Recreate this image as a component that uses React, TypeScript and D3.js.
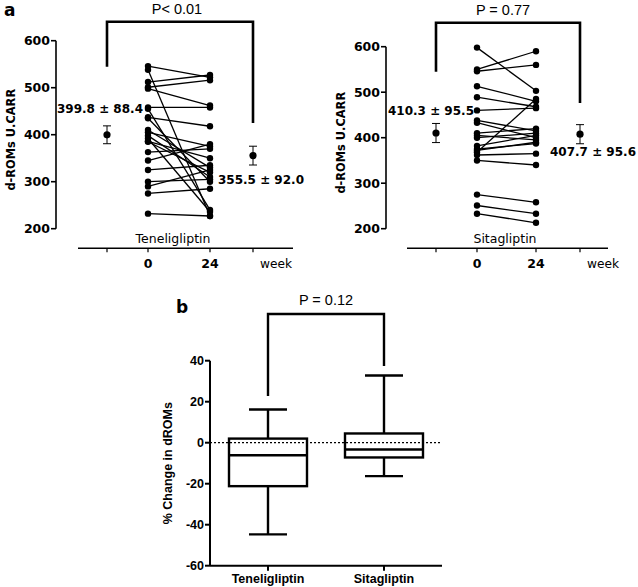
import React from 'react';
import * as d3 from 'd3';

// ---------- Data ----------
const weekLabels = ['0', '24'];
const teneBaseline = [546, 538, 512, 501, 498, 458, 455, 437, 435, 410, 405, 398, 392, 386, 385, 363, 345, 325, 300, 290, 275, 232];
const teneWeek24 = [522, 227, 527, 516, 462, 458, 240, 418, 300, 330, 375, 310, 236, 350, 320, 370, 380, 335, 305, 325, 285, 227];
const sitaBaseline = [598, 550, 546, 513, 489, 460, 438, 433, 410, 405, 400, 382, 375, 368, 362, 350, 372, 275, 251, 233];
const sitaWeek24 = [503, 590, 560, 480, 468, 465, 415, 400, 420, 395, 410, 405, 387, 485, 365, 340, 390, 258, 233, 213];
const teneMean = [399.8, 355.5];
const teneSD = [88.4, 92.0];
const teneSEM = [19, 20];
const sitaMean = [410.3, 407.7];
const sitaSD = [95.5, 95.6];
const sitaSEM = [21, 21];
const yTicksA = [200, 300, 400, 500, 600];
const drugs = ['Teneligliptin', 'Sitagliptin'];
const pLabels = ['P< 0.01', 'P = 0.77', 'P = 0.12'];

const boxMin = [-44.7, -16.3];
const boxQ1 = [-21.2, -7.2];
const boxMed = [-6.1, -3.3];
const boxQ3 = [2.0, 4.5];
const boxMax = [16.2, 32.8];
const yTicksB = [-60, -40, -20, 0, 20, 40];

const FA = '"DejaVu Sans", Verdana, sans-serif';
const FB = '"Liberation Sans", Arial, sans-serif';

type Cfg = {
  axisX: number;
  yRange: [number, number];
  xPos: number[];
  baseX: [number, number];
  baseY: number;
  bracketTop: number;
  bracketL: number;
  bracketR: number;
  preLab: [number, number];
  postLab: [number, number];
  drugX: number;
  pX: number;
};

const cfgL: Cfg = {
  axisX: 56, yRange: [228.7, 40.7], xPos: [107, 148, 210, 253], baseX: [78, 293], baseY: 248.3,
  bracketTop: 21.7, bracketL: 66.7, bracketR: 123, preLab: [-7, -26], postLab: [8, 24.5], drugX: 173, pX: 177,
};
const cfgR: Cfg = {
  axisX: 386, yRange: [228.7, 46.7], xPos: [436, 477, 536, 580], baseX: [407, 608], baseY: 248.3,
  bracketTop: 22.7, bracketL: 71.7, bracketR: 103, preLab: [-5, -22.5], postLab: [13, 17.5], drugX: 505, pX: 503,
};

function PanelA({ cfg, base, wk, mean, sd, sem, drug, p }: any) {
  const c: Cfg = cfg;
  const y = d3.scaleLinear().domain([200, 600]).range(c.yRange);
  const x = d3.scaleOrdinal<string, number>().domain(['pre', ...weekLabels, 'post']).range(c.xPos);
  const fmt = d3.format('.1f');
  const means = [
    { key: 'pre', m: mean[0], s: sem[0], sdv: sd[0], lab: c.preLab },
    { key: 'post', m: mean[1], s: sem[1], sdv: sd[1], lab: c.postLab },
  ];
  return (
    <g>
      <line x1={c.axisX} x2={c.axisX} y1={y(200)} y2={y(600)} stroke="#000" strokeWidth={1.6} />
      {yTicksA.map((t) => (
        <g key={t}>
          <line x1={c.axisX - 5} x2={c.axisX} y1={y(t)} y2={y(t)} stroke="#000" strokeWidth={1.6} />
          <text x={c.axisX - 6} y={y(t)} dy="0.36em" textAnchor="end" fontFamily={FA} fontWeight="bold" fontSize={12.5}>{t}</text>
        </g>
      ))}
      <text transform={`translate(${c.axisX - 41},${(y(200) + y(600)) / 2 + 5}) rotate(-90)`} textAnchor="middle" fontFamily={FA} fontWeight="bold" fontSize={11.4}>d-ROMs U.CARR</text>
      <line x1={c.baseX[0]} x2={c.baseX[1]} y1={c.baseY} y2={c.baseY} stroke="#000" strokeWidth={1.4} />
      {['pre', ...weekLabels, 'post'].map((k) => (
        <line key={k} x1={x(k)} x2={x(k)} y1={c.baseY} y2={c.baseY + 4} stroke="#000" strokeWidth={1.2} />
      ))}
      {weekLabels.map((k) => (
        <text key={k} x={x(k)} y={c.baseY + 15} dy="0.36em" textAnchor="middle" fontFamily={FA} fontWeight="bold" fontSize={12.5}>{k}</text>
      ))}
      <text x={x('post') + 7} y={c.baseY + 15} dy="0.36em" fontFamily={FA} fontSize={12.2}>week</text>
      <text x={c.drugX} y={c.baseY - 10} dy="0.36em" textAnchor="middle" fontFamily={FA} fontSize={12.5}>{drug}</text>
      {base.map((b: number, i: number) => (
        <line key={'l' + i} x1={x('0')} x2={x('24')} y1={y(b)} y2={y(wk[i])} stroke="#000" strokeWidth={1.3} />
      ))}
      {base.map((b: number, i: number) => (
        <circle key={'a' + i} cx={x('0')} cy={y(b)} r={3.2} fill="#000" />
      ))}
      {wk.map((b: number, i: number) => (
        <circle key={'b' + i} cx={x('24')} cy={y(b)} r={3.2} fill="#000" />
      ))}
      {means.map((d) => (
        <g key={d.key}>
          <line x1={x(d.key)} x2={x(d.key)} y1={y(d.m - d.s)} y2={y(d.m + d.s)} stroke="#000" strokeWidth={1} />
          <line x1={x(d.key) - 4} x2={x(d.key) + 4} y1={y(d.m - d.s)} y2={y(d.m - d.s)} stroke="#000" strokeWidth={1} />
          <line x1={x(d.key) - 4} x2={x(d.key) + 4} y1={y(d.m + d.s)} y2={y(d.m + d.s)} stroke="#000" strokeWidth={1} />
          <circle cx={x(d.key)} cy={y(d.m)} r={3.6} fill="#000" />
          <text x={x(d.key) + d.lab[0]} y={y(d.m) + d.lab[1]} dy="0.36em" textAnchor="middle" fontFamily={FA} fontWeight="bold" fontSize={12}>
            {`${fmt(d.m)} ± ${fmt(d.sdv)}`}
          </text>
        </g>
      ))}
      <path d={`M${x('pre')},${c.bracketL}V${c.bracketTop}H${x('post')}V${c.bracketR}`} fill="none" stroke="#000" strokeWidth={2.6} />
      <text x={c.pX} y={c.bracketTop - 13} dy="0.36em" textAnchor="middle" fontFamily={FB} fontSize={14.5}>{p}</text>
    </g>
  );
}

function PanelB() {
  const y = d3.scaleLinear().domain([-60, 40]).range([565.7, 360.7]);
  const x = d3.scalePoint<string>().domain(drugs).range([210, 442]).padding(0.5);
  const axisX = 210;
  const boxW = 78;
  const capW = 38;
  const c0 = x(drugs[0]) as number;
  const c1 = x(drugs[1]) as number;
  return (
    <g>
      <line x1={axisX} x2={axisX} y1={y(-60)} y2={y(40)} stroke="#000" strokeWidth={2} />
      {yTicksB.map((t) => (
        <g key={t}>
          <line x1={axisX - 5} x2={axisX} y1={y(t)} y2={y(t)} stroke="#000" strokeWidth={2} />
          <text x={axisX - 6} y={y(t)} dy="0.36em" textAnchor="end" fontFamily={FB} fontWeight="bold" fontSize={12.5}>{t}</text>
        </g>
      ))}
      <line x1={axisX} x2={442} y1={y(-60)} y2={y(-60)} stroke="#000" strokeWidth={2} />
      <line x1={axisX} x2={442} y1={y(0)} y2={y(0)} stroke="#000" strokeWidth={1.2} strokeDasharray="2,2" />
      <text transform={`translate(${axisX - 38},${(y(-60) + y(40)) / 2}) rotate(-90)`} textAnchor="middle" fontFamily={FB} fontWeight="bold" fontSize={12.5}>% Change in dROMs</text>
      {drugs.map((d, i) => {
        const cx = x(d) as number;
        return (
          <g key={d}>
            <line x1={cx} x2={cx} y1={y(-60)} y2={y(-60) + 5} stroke="#000" strokeWidth={2} />
            <text x={cx} y={y(-60) + 13} dy="0.36em" textAnchor="middle" fontFamily={FB} fontWeight="bold" fontSize={12.5}>{d}</text>
            <line x1={cx} x2={cx} y1={y(boxMax[i])} y2={y(boxQ3[i])} stroke="#000" strokeWidth={2.4} />
            <line x1={cx} x2={cx} y1={y(boxMin[i])} y2={y(boxQ1[i])} stroke="#000" strokeWidth={2.4} />
            <line x1={cx - capW / 2} x2={cx + capW / 2} y1={y(boxMax[i])} y2={y(boxMax[i])} stroke="#000" strokeWidth={2.4} />
            <line x1={cx - capW / 2} x2={cx + capW / 2} y1={y(boxMin[i])} y2={y(boxMin[i])} stroke="#000" strokeWidth={2.4} />
            <rect x={cx - boxW / 2} y={y(boxQ3[i])} width={boxW} height={y(boxQ1[i]) - y(boxQ3[i])} fill="none" stroke="#000" strokeWidth={2.4} />
            <line x1={cx - boxW / 2} x2={cx + boxW / 2} y1={y(boxMed[i])} y2={y(boxMed[i])} stroke="#000" strokeWidth={2.4} />
          </g>
        );
      })}
      <path d={`M${c0},396V314H${c1}V366`} fill="none" stroke="#000" strokeWidth={2.4} />
      <text x={(c0 + c1) / 2} y={300} dy="0.36em" textAnchor="middle" fontFamily={FB} fontSize={14.5}>{pLabels[2]}</text>
    </g>
  );
}

export default function App() {
  return (
    <svg width={638} height={587} style={{ position: 'absolute', left: 0, top: 0, background: '#fff' }}>
      <rect width={638} height={587} fill="#fff" />
      <text x={4} y={10} dy="0.36em" fontFamily={FA} fontWeight="bold" fontSize={17}>a</text>
      <text x={176} y={307} dy="0.36em" fontFamily={FA} fontWeight="bold" fontSize={17}>b</text>
      <PanelA cfg={cfgL} base={teneBaseline} wk={teneWeek24} mean={teneMean} sd={teneSD} sem={teneSEM} drug={drugs[0]} p={pLabels[0]} />
      <PanelA cfg={cfgR} base={sitaBaseline} wk={sitaWeek24} mean={sitaMean} sd={sitaSD} sem={sitaSEM} drug={drugs[1]} p={pLabels[1]} />
      <PanelB />
    </svg>
  );
}
